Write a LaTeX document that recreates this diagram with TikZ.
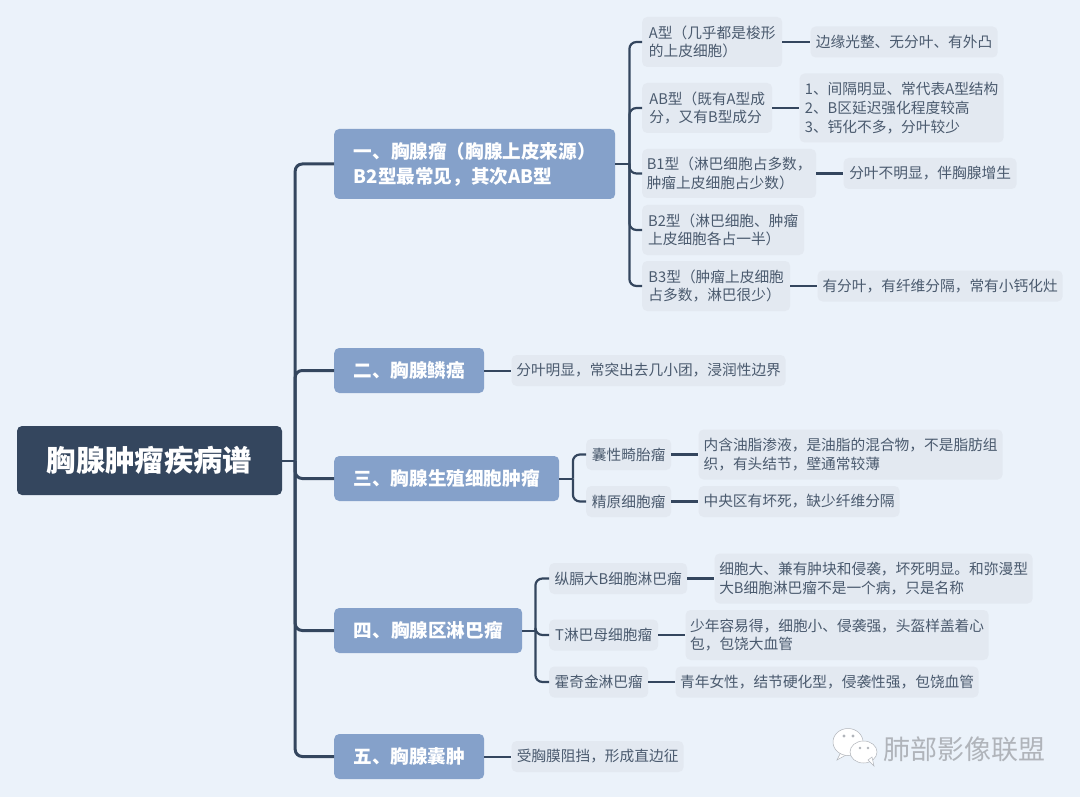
\documentclass[tikz,border=0pt]{standalone}
\usepackage{fontspec}
\setmainfont{Noto Sans CJK SC}
\usepackage{tikz}
\usetikzlibrary{positioning,calc}
\definecolor{pagebg}{HTML}{EBF2FA}
\definecolor{rootblue}{HTML}{34465E}
\definecolor{mainblue}{HTML}{85A1CA}
\definecolor{leafgray}{HTML}{E3E9F1}
\definecolor{leaftext}{HTML}{4A5A6E}
\definecolor{markgray}{HTML}{B0B4BA}

\begin{document}
\begin{tikzpicture}[
      x=1pt, y=-1pt,
      node distance=27pt,
      rootbox/.style={fill=rootblue, rounded corners=5pt, inner sep=0pt, text=white,
                  minimum width=265pt, minimum height=69pt,
                  font=\fontsize{29.3}{34}\selectfont\bfseries},
      mainbox/.style={fill=mainblue, rounded corners=5pt, inner sep=0pt, text=white, anchor=west,
                  align=left, font=\fontsize{18.6}{25}\selectfont\bfseries},
      leafbox/.style={fill=leafgray, rounded corners=5pt, inner sep=0pt, text=leaftext,
                  align=left, font=\fontsize{14.7}{18.7}\selectfont},
      typebox/.style={leafbox, anchor=west},
      arr/.style={draw=rootblue, line width=2.2pt, rounded corners=7pt},
      trunk/.style={arr, line width=3pt},
      thin arr/.style={arr, line width=2pt},
      bubble/.style={fill=white, draw=markgray, line width=0.5pt},
    ]
    \fill[pagebg] (0,0) rectangle (1080,797);
    \useasboundingbox (0,0) rectangle (1080,797);

    % Root + main branches
    \node[rootbox] (root) at (149.5,460.5) {胸腺肿瘤疾病谱};
    \node[mainbox, minimum width=281pt, minimum height=70pt] (thymoma) at (334,164)
      {一、胸腺瘤（胸腺上皮来源）\\B2型最常见，其次AB型};
    \node[mainbox, minimum width=150pt, minimum height=45pt] (squamous) at (334,370.5) {二、胸腺鳞癌};
    \node[mainbox, minimum width=225pt, minimum height=45pt] (germ)     at (334,478.5) {三、胸腺生殖细胞肿瘤};
    \node[mainbox, minimum width=188pt, minimum height=45pt] (lymph)    at (334,630.5) {四、胸腺区淋巴瘤};
    \node[mainbox, minimum width=150pt, minimum height=45pt] (cyst)     at (334,756.5) {五、胸腺囊肿};

    % Thymoma types
    \node[typebox, minimum width=140pt, minimum height=50pt] (typeA)  at (642,42)
      {A型（几乎都是梭形\\的上皮细胞）};
    \node[typebox, minimum width=130pt, minimum height=50pt] (typeAB) at (642,108)
      {AB型（既有A型成\\分，又有B型成分};
    \node[typebox, minimum width=174pt, minimum height=49pt] (typeBa) at (642,173.5)
      {B1型（淋巴细胞占多数，\\肿瘤上皮细胞占少数）};
    \node[typebox, minimum width=162pt, minimum height=50pt] (typeBb) at (642,230)
      {B2型（淋巴细胞、肿瘤\\上皮细胞各占一半）};
    \node[typebox, minimum width=148pt, minimum height=50pt] (typeBc) at (642,286)
      {B3型（肿瘤上皮细胞\\占多数，淋巴很少）};

    \node[leafbox, right=28pt of typeA, minimum width=187pt, minimum height=31pt] (signA)
      {边缘光整、无分叶、有外凸};
    \node[leafbox, right=of typeAB, minimum width=204pt, minimum height=69pt] (signAB)
      {1、间隔明显、常代表A型结构\\2、B区延迟强化程度较高\\3、钙化不多，分叶较少};
    \node[leafbox, right=of typeBa, minimum width=173pt, minimum height=31pt] (signBa)
      {分叶不明显，伴胸腺增生};
    \node[leafbox, right=of typeBc, minimum width=245pt, minimum height=31pt] (signBc)
      {有分叶，有纤维分隔，常有小钙化灶};

    % Squamous + cyst
    \node[leafbox, right=of squamous, minimum width=274pt, minimum height=31pt] (signSq)
      {分叶明显，常突出去几小团，浸润性边界};
    \node[leafbox, right=of cyst, minimum width=172pt, minimum height=31pt] (signCy)
      {受胸膜阻挡，形成直边征};

    % Germ cell
    \node[typebox, minimum width=85pt, minimum height=31pt] (terato) at (586,454.5) {囊性畸胎瘤};
    \node[typebox, minimum width=85pt, minimum height=31pt] (semino) at (586,501.5) {精原细胞瘤};
    \node[leafbox, right=of terato, minimum width=304pt, minimum height=50pt] (signTe)
      {内含油脂渗液，是油脂的混合物，不是脂肪组\\织，有头结节，壁通常较薄};
    \node[leafbox, right=of semino, minimum width=201pt, minimum height=31pt] (signSe)
      {中央区有坏死，缺少纤维分隔};

    % Lymphoma
    \node[typebox, minimum width=138pt, minimum height=31pt] (dlbcl)   at (549,578.5) {纵膈大B细胞淋巴瘤};
    \node[typebox, minimum width=109pt, minimum height=31pt] (tcell)   at (549,635)   {T淋巴母细胞瘤};
    \node[typebox, minimum width=99pt, minimum height=31pt]  (hodgkin) at (549,682)   {霍奇金淋巴瘤};
    \node[leafbox, right=of dlbcl, minimum width=318pt, minimum height=50pt] (signDl)
      {细胞大、兼有肿块和侵袭，坏死明显。和弥漫型\\大B细胞淋巴瘤不是一个病，只是名称};
    \node[leafbox, right=of tcell, minimum width=303pt, minimum height=50pt] (signTc)
      {少年容易得，细胞小、侵袭强，头盔样盖着心\\包，包饶大血管};
    \node[leafbox, right=of hodgkin, minimum width=303pt, minimum height=31pt] (signHo)
      {青年女性，结节硬化型，侵袭性强，包饶血管};

    % Junctions
    \coordinate (rootjoin)  at ($(root.east)+(13,0)$);
    \coordinate (thymjoin)  at ($(thymoma.east)+(14,0)$);
    \coordinate (germjoin)  at ($(germ.east)+(13.5,0)$);
    \coordinate (lymphjoin) at ($(lymph.east)+(13,0)$);

    % Arrows
    \draw[thin arr] (root.east) -- (rootjoin);
    \foreach \n in {thymoma,squamous,germ,lymph,cyst}
      \draw[trunk] (rootjoin) |- (\n.west);
    \draw[thin arr] (thymoma.east) -- (thymjoin);
    \foreach \n in {typeA,typeAB,typeBa,typeBb,typeBc}
      \draw[arr] (thymjoin) |- (\n.west);
    \draw[thin arr] (germ.east) -- (germjoin);
    \foreach \n in {terato,semino}
      \draw[arr] (germjoin) |- (\n.west);
    \draw[thin arr] (lymph.east) -- (lymphjoin);
    \foreach \n in {dlbcl,tcell,hodgkin}
      \draw[arr] (lymphjoin) |- (\n.west);
    \draw[arr] (typeA)  -- (signA);
    \draw[arr] (typeAB) -- (signAB);
    \draw[arr] (typeBa) -- (signBa);
    \draw[arr] (typeBc) -- (signBc);
    \draw[thin arr] (squamous) -- (signSq);
    \draw[thin arr] (cyst) -- (signCy);
    \draw[arr] (terato)  -- (signTe);
    \draw[arr] (semino)  -- (signSe);
    \draw[arr] (dlbcl)   -- (signDl);
    \draw[arr] (tcell)   -- (signTc);
    \draw[arr] (hodgkin) -- (signHo);

    % Watermark
    \fill[bubble] (841,752) -- (837,760) -- (846,755) -- cycle;
    \draw[bubble] (848,742) ellipse (15 and 13.5);
    \draw[bubble] (863.5,752) ellipse (13.5 and 11);
    \fill[bubble] (868,760) -- (874,766) -- (872,757) -- cycle;
    \fill[markgray] (844,736) circle (1.6) (853,736) circle (1.6)
                    (860,748) circle (1.4) (868,748) circle (1.4);
    \node[text=markgray, font=\fontsize{27}{32}\selectfont] (mark) at (964,749) {肺部影像联盟};
  \end{tikzpicture}
\end{document}
